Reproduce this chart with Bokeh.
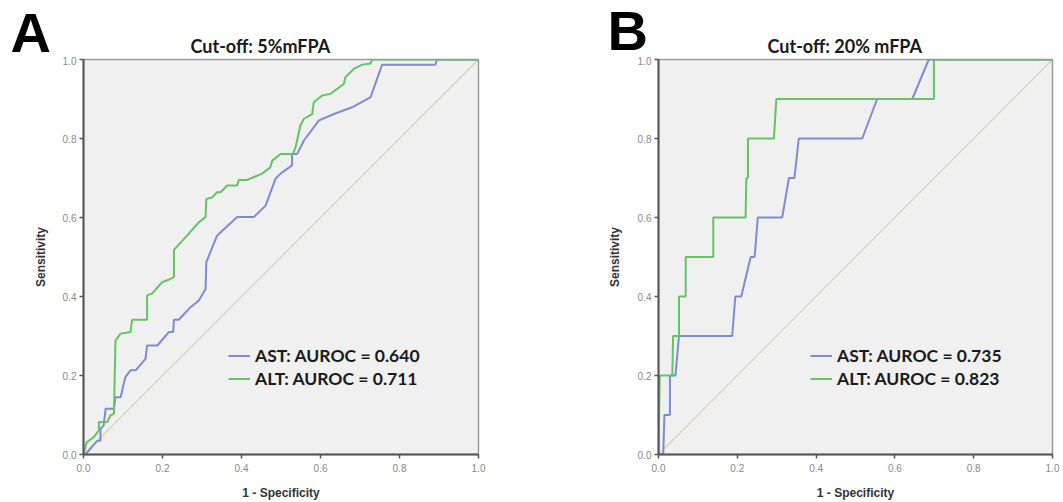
from bokeh.plotting import figure
from bokeh.models import Range1d, Legend, LegendItem, FixedTicker, PrintfTickFormatter
from bokeh.core.properties import value
from bokeh.layouts import row, column
from bokeh.embed import file_html
from bokeh.resources import INLINE

# ---------------- data ----------------
ticks = [0.0, 0.2, 0.4, 0.6, 0.8, 1.0]

titles = ["Cut-off: 5%mFPA", "Cut-off: 20% mFPA"]
panel_letters = ["A", "B"]
x_label = "1 - Specificity"
y_label = "Sensitivity"

a_ast_labels = "AST: AUROC = 0.640"
a_alt_labels = "ALT: AUROC = 0.711"
b_ast_labels = "AST: AUROC = 0.735"
b_alt_labels = "ALT: AUROC = 0.823"

# Panel A, ALT (green)
a_alt_fpr = [0.0, 0.008, 0.026, 0.039, 0.039, 0.060, 0.068, 0.077, 0.081, 0.094,
             0.119, 0.123, 0.161, 0.161, 0.174, 0.199, 0.212, 0.229, 0.229, 0.262,
             0.292, 0.309, 0.311, 0.326, 0.338, 0.347, 0.364, 0.389, 0.393, 0.414,
             0.452, 0.473, 0.478, 0.499, 0.530, 0.537, 0.549, 0.558, 0.579, 0.583,
             0.604, 0.625, 0.659, 0.663, 0.684, 0.706, 0.727, 0.731, 1.0]
a_alt_tpr = [0.0, 0.031, 0.044, 0.061, 0.082, 0.082, 0.099, 0.103, 0.289, 0.306,
             0.310, 0.341, 0.341, 0.403, 0.408, 0.436, 0.441, 0.449, 0.518, 0.554,
             0.588, 0.601, 0.647, 0.651, 0.664, 0.664, 0.681, 0.681, 0.695, 0.695,
             0.711, 0.727, 0.744, 0.761, 0.761, 0.778, 0.833, 0.850, 0.862, 0.892,
             0.909, 0.913, 0.938, 0.955, 0.976, 0.987, 0.990, 1.0, 1.0]

# Panel A, AST (blue)
a_ast_fpr = [0.005, 0.035, 0.043, 0.043, 0.051, 0.056, 0.077, 0.081, 0.094, 0.106,
             0.119, 0.132, 0.157, 0.161, 0.187, 0.216, 0.227, 0.229, 0.241, 0.271,
             0.292, 0.309, 0.311, 0.338, 0.389, 0.431, 0.461, 0.486, 0.499, 0.528,
             0.528, 0.541, 0.558, 0.596, 0.634, 0.680, 0.727, 0.756, 0.891, 0.895, 1.0]
a_ast_tpr = [0.0, 0.035, 0.035, 0.065, 0.073, 0.116, 0.116, 0.145, 0.145, 0.196,
             0.213, 0.213, 0.242, 0.276, 0.276, 0.310, 0.310, 0.341, 0.341, 0.373,
             0.390, 0.419, 0.487, 0.554, 0.601, 0.601, 0.630, 0.698, 0.711, 0.732,
             0.761, 0.761, 0.795, 0.846, 0.862, 0.879, 0.905, 0.987, 0.987, 1.0, 1.0]

# Panel B, ALT (green)
b_alt_fpr = [0.0, 0.003, 0.035, 0.037, 0.052, 0.052, 0.069, 0.069, 0.139, 0.139,
             0.221, 0.223, 0.227, 0.227, 0.293, 0.299, 0.699, 0.699, 1.0]
b_alt_tpr = [0.0, 0.2, 0.2, 0.3, 0.3, 0.4, 0.4, 0.5, 0.5, 0.6,
             0.6, 0.7, 0.7, 0.8, 0.8, 0.9, 0.9, 1.0, 1.0]

# Panel B, AST (blue)
b_ast_fpr = [0.0, 0.012, 0.015, 0.029, 0.029, 0.043, 0.052, 0.187, 0.195, 0.210,
             0.234, 0.244, 0.252, 0.314, 0.331, 0.345, 0.356, 0.517, 0.555, 0.644,
             0.686, 1.0]
b_ast_tpr = [0.0, 0.0, 0.1, 0.1, 0.2, 0.2, 0.3, 0.3, 0.4, 0.4,
             0.5, 0.5, 0.6, 0.6, 0.7, 0.7, 0.8, 0.8, 0.9, 0.9,
             1.0, 1.0]

ref_line = [0.0, 1.0]

# ---------------- styles ----------------
AST_COLOR = "#7d8bd3"
ALT_COLOR = "#62c462"
DIAG_COLOR = "#d8d4a6"
BG = "#f0f0f0"

STRIP_H = 56
TOTAL_W = 1060

# header strip (panel letters and panel titles), pixel coordinates from top-left
strip = figure(width=TOTAL_W, height=STRIP_H, x_range=Range1d(0, TOTAL_W),
               y_range=Range1d(STRIP_H, 0), output_backend="svg",
               toolbar_location=None, x_axis_location=None, y_axis_location=None,
               min_border=0)
strip.outline_line_color = None
strip.grid.visible = False
strip.background_fill_color = "white"
strip.border_fill_color = "white"
strip.text(x=[10, 607], y=[32, 30], text=panel_letters,
           text_font=value("Liberation Sans"), text_font_style="bold",
           text_font_size="56px", text_baseline="middle", text_align="left",
           text_color="black")
strip.text(x=[190, 767], y=[45, 45], text=titles,
           text_font=value("Lato"), text_font_style="bold",
           text_font_size="18px", text_baseline="middle", text_align="left",
           text_color="#1a1a1a")


def make_panel(ast_x, ast_y, ast_lab, alt_x, alt_y, alt_lab,
               border_left, border_right, frame_w, ylab_standoff, legend_x):
    p = figure(frame_width=frame_w, frame_height=395,
               x_range=Range1d(0, 1), y_range=Range1d(0, 1),
               output_backend="svg", toolbar_location=None,
               min_border_left=border_left, min_border_right=border_right,
               min_border_top=3, min_border_bottom=44)
    p.background_fill_color = BG
    p.border_fill_color = "white"
    p.outline_line_color = "#9a9a9a"
    p.outline_line_width = 1.5
    p.grid.visible = False

    for ax in (p.xaxis[0], p.yaxis[0]):
        ax.ticker = FixedTicker(ticks=ticks)
        ax.formatter = PrintfTickFormatter(format="%.1f")
        ax.minor_tick_line_color = None
        ax.major_tick_in = 0
        ax.major_tick_out = 4
        ax.major_tick_line_color = "#555555"
        ax.major_tick_line_width = 1.5
        ax.axis_line_color = "#555555"
        ax.axis_line_width = 2
        ax.major_label_text_color = "#8a8a8a"
        ax.major_label_text_font = "Liberation Sans"
        ax.major_label_text_font_size = "10px"
        ax.axis_label_text_font = "Liberation Sans"
        ax.axis_label_text_font_style = "bold"
        ax.axis_label_text_font_size = "12px"
        ax.axis_label_text_color = "#333333"
    p.xaxis.axis_label = x_label
    p.yaxis.axis_label = y_label
    p.xaxis.major_label_standoff = 5
    p.yaxis.major_label_standoff = 3
    p.xaxis.axis_label_standoff = 11
    p.yaxis.axis_label_standoff = ylab_standoff

    p.line(ref_line, ref_line, line_color=DIAG_COLOR, line_width=1.2)
    r_ast = p.line(ast_x, ast_y, line_color=AST_COLOR, line_width=2)
    r_alt = p.line(alt_x, alt_y, line_color=ALT_COLOR, line_width=2)

    legend = Legend(items=[LegendItem(label=ast_lab, renderers=[r_ast]),
                           LegendItem(label=alt_lab, renderers=[r_alt])],
                    location=(legend_x, 64))
    legend.background_fill_alpha = 0
    legend.border_line_alpha = 0
    legend.padding = 0
    legend.margin = 0
    legend.spacing = 0
    legend.label_height = 23
    legend.glyph_height = 23
    legend.glyph_width = 22
    legend.label_standoff = 5
    legend.label_text_font = "Lato"
    legend.label_text_font_style = "bold"
    legend.label_text_font_size = "17.5px"
    legend.label_text_color = "#1a1a1a"
    p.add_layout(legend)
    return p


pa = make_panel(a_ast_fpr, a_ast_tpr, a_ast_labels, a_alt_fpr, a_alt_tpr, a_alt_labels,
                83, 70, 395, 12, 145)
pb = make_panel(b_ast_fpr, b_ast_tpr, b_ast_labels, b_alt_fpr, b_alt_tpr, b_alt_labels,
                110, 8, 394, 13, 152)

layout = column(strip, row(pa, pb))
open("out.html", "w").write(file_html(layout, INLINE))
